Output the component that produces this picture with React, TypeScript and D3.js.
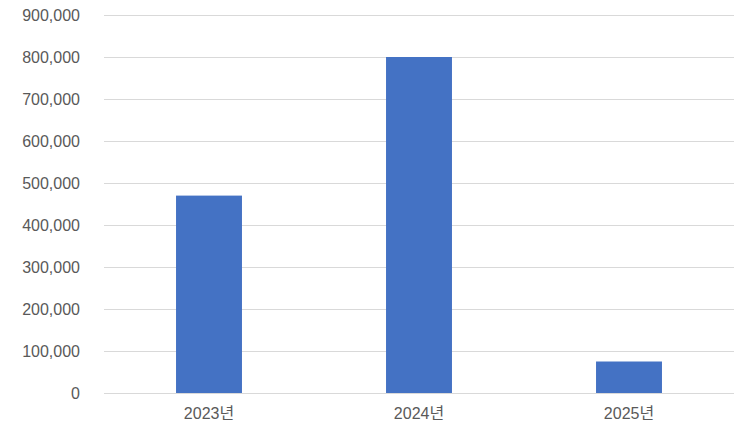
import { useEffect, useRef } from 'react';
import * as d3 from 'd3';

const categories = ['2023년', '2024년', '2025년'];
const values = [470000, 800000, 75000];
const yTicks = [0, 100000, 200000, 300000, 400000, 500000, 600000, 700000, 800000, 900000];

export default function App() {
  const svgRef = useRef<SVGSVGElement>(null);

  useEffect(() => {
    if (!svgRef.current) return;

    const width = 743;
    const height = 430;
    const margin = { top: 15, right: 9, bottom: 37, left: 104 };
    const font = "'Liberation Sans', Arial, 'Noto Sans CJK KR', sans-serif";

    d3.select(svgRef.current).selectAll('*').remove();

    const svg = d3
      .select(svgRef.current)
      .attr('width', width)
      .attr('height', height)
      .attr('viewBox', `0 0 ${width} ${height}`);

    svg.append('rect').attr('width', width).attr('height', height).attr('fill', '#fff');

    const x = d3
      .scaleBand()
      .domain(categories)
      .range([margin.left, width - margin.right])
      .paddingInner(0.686)
      .paddingOuter(0.343);

    const y = d3
      .scaleLinear()
      .domain([0, 900000])
      .range([height - margin.bottom, margin.top]);

    // gridlines
    svg
      .append('g')
      .selectAll('line')
      .data(yTicks)
      .enter()
      .append('line')
      .attr('x1', margin.left)
      .attr('x2', width - margin.right)
      .attr('y1', (d) => Math.round(y(d)) + 0.5)
      .attr('y2', (d) => Math.round(y(d)) + 0.5)
      .attr('stroke', '#d9d9d9')
      .attr('stroke-width', 1);

    // y labels
    svg
      .append('g')
      .selectAll('text')
      .data(yTicks)
      .enter()
      .append('text')
      .attr('x', 80)
      .attr('y', (d) => y(d))
      .attr('dy', '0.35em')
      .attr('text-anchor', 'end')
      .attr('fill', '#595959')
      .attr('font-family', font)
      .attr('font-size', '16px')
      .text((d) => d3.format(',')(d));

    // bars
    svg
      .append('g')
      .selectAll('rect')
      .data(values)
      .enter()
      .append('rect')
      .attr('x', (_, i) => x(categories[i]) as number)
      .attr('width', x.bandwidth())
      .attr('y', (d) => y(d))
      .attr('height', (d) => y(0) - y(d))
      .attr('fill', '#4472c4');

    // x labels
    svg
      .append('g')
      .selectAll('text')
      .data(categories)
      .enter()
      .append('text')
      .attr('x', (d) => (x(d) as number) + x.bandwidth() / 2)
      .attr('y', 419)
      .attr('text-anchor', 'middle')
      .attr('fill', '#595959')
      .attr('font-family', font)
      .attr('font-size', '16px')
      .text((d) => d);
  }, []);

  return <svg ref={svgRef} style={{ position: 'absolute', left: 0, top: 0, display: 'block' }} />;
}
